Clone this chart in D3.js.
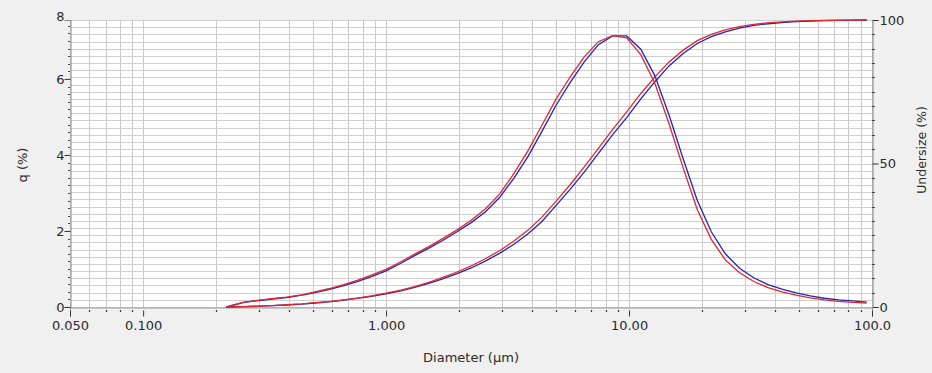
<!DOCTYPE html>
<html>
<head>
<meta charset="utf-8">
<script src="https://cdn.jsdelivr.net/npm/d3@7"></script>
<style>
  html, body { margin: 0; padding: 0; background: #f0f0f0; }
  svg { display: block; }
  text { font-family: "DejaVu Sans", sans-serif; fill: #2b2b2b; }
</style>
</head>
<body>
<svg id="chart" width="932" height="373"></svg>
<script>
// ---- data ----
const diameters = [0.22, 0.26, 0.30, 0.34, 0.39, 0.45, 0.51, 0.58, 0.67, 0.76, 0.87, 1.00,
  1.15, 1.31, 1.50, 1.71, 1.96, 2.24, 2.56, 2.93, 3.35, 3.83, 4.38, 5.00, 5.72, 6.54, 7.48,
  8.55, 9.78, 11.18, 12.78, 14.61, 16.70, 19.10, 21.80, 24.90, 28.50, 32.60, 37.30, 42.60,
  48.70, 55.70, 63.60, 72.80, 83.20, 95.10];

const qBlue = [0, 0.12, 0.17, 0.21, 0.25, 0.31, 0.38, 0.46, 0.56, 0.67, 0.80, 0.95,
  1.15, 1.35, 1.55, 1.75, 1.98, 2.22, 2.50, 2.88, 3.38, 3.95, 4.62, 5.30, 5.90, 6.45, 6.90,
  7.13, 7.13, 6.78, 6.08, 5.05, 3.90, 2.80, 1.98, 1.40, 1.02, 0.77, 0.59, 0.47,
  0.37, 0.29, 0.23, 0.19, 0.16, 0.13];

const qRed = [0, 0.13, 0.18, 0.22, 0.26, 0.32, 0.40, 0.48, 0.59, 0.70, 0.84, 0.99,
  1.19, 1.39, 1.59, 1.80, 2.03, 2.28, 2.58, 2.97, 3.50, 4.10, 4.78, 5.46, 6.05, 6.58, 6.98,
  7.14, 7.08, 6.64, 5.88, 4.82, 3.66, 2.56, 1.78, 1.24, 0.90, 0.67, 0.51, 0.40,
  0.31, 0.24, 0.19, 0.15, 0.12, 0.10];

const underBlue = [0, 0.1, 0.3, 0.5, 0.7, 1.0, 1.4, 1.8, 2.4, 3.0, 3.7, 4.6,
  5.6, 6.8, 8.2, 9.8, 11.6, 13.6, 16.0, 18.7, 21.8, 25.4, 29.8, 35.3, 41.0, 47.0, 53.5,
  60.0, 66.0, 72.5, 78.5, 84.0, 88.3, 91.8, 94.2, 95.9, 97.2, 98.1, 98.7, 99.1,
  99.4, 99.6, 99.75, 99.85, 99.95, 100];

const underRed = [0, 0.1, 0.3, 0.5, 0.8, 1.1, 1.5, 1.9, 2.5, 3.1, 3.9, 4.8,
  5.9, 7.1, 8.6, 10.3, 12.2, 14.3, 16.8, 19.6, 22.9, 26.7, 31.3, 36.8, 42.6, 48.8, 55.3,
  61.8, 68.0, 74.4, 80.2, 85.4, 89.5, 92.8, 95.0, 96.6, 97.7, 98.5, 99.0, 99.35,
  99.6, 99.75, 99.85, 99.92, 99.97, 100];

const xTickValues = [0.05, 0.1, 1, 10, 100];
const xTickLabels = ["0.050", "0.100", "1.000", "10.00", "100.0"];
const qTickValues = [0, 2, 4, 6];
const qTopLabel = "8";
const qMax = 7.55;
const uTickValues = [0, 50, 100];

// ---- layout ----
const L = 70, R = 872, T = 20, B = 307;
const svg = d3.select("#chart");

const x = d3.scaleLog().domain([0.05, 100]).range([L, R]);
const yQ = d3.scaleLinear().domain([0, qMax]).range([B, T]);
const yU = d3.scaleLinear().domain([0, 100]).range([B, T]);

// plot background
svg.append("rect").attr("x", L).attr("y", T).attr("width", R - L).attr("height", B - T)
  .attr("fill", "#ffffff");

// grid
const logGrid = [];
[0.01, 0.1, 1, 10].forEach(dec => { for (let k = 1; k <= 9; k++) logGrid.push(dec * k); });
logGrid.push(100);
const vGrid = logGrid.filter(v => v >= 0.05 - 1e-9 && v <= 100 + 1e-9);
const g = svg.append("g");
g.selectAll("line.v").data(vGrid).join("line")
  .attr("x1", d => Math.round(x(d)) + 0.5).attr("x2", d => Math.round(x(d)) + 0.5)
  .attr("y1", T).attr("y2", B)
  .attr("stroke", "#c9c9c9").attr("stroke-width", 1);
const hGrid = d3.range(0, 100.001, 2.5);
g.selectAll("line.h").data(hGrid).join("line")
  .attr("x1", L).attr("x2", R)
  .attr("y1", d => Math.round(yU(d)) + 0.5).attr("y2", d => Math.round(yU(d)) + 0.5)
  .attr("stroke", "#cfcfcf").attr("stroke-width", 1);

// ---- axes ----
// left axis
const leftAxis = d3.axisLeft(yQ).tickValues(qTickValues).tickSize(6).tickFormat(d3.format("d"));
const gl = svg.append("g").attr("transform", `translate(${L + 0.5},0)`).call(leftAxis);
gl.select(".domain").attr("stroke", "#888");
gl.selectAll(".tick line").attr("stroke", "#333");
gl.selectAll(".tick text").attr("font-size", 13).attr("x", -6).attr("dy", "0.36em");
gl.append("text").attr("x", -6).attr("y", yQ(qMax)).attr("dy", "0.1em")
  .attr("text-anchor", "end").attr("font-size", 13).style("fill", "#2b2b2b").text(qTopLabel);
const qMinor = d3.range(0.2, qMax, 0.2).filter(v => Math.abs(v / 2 - Math.round(v / 2)) > 1e-6);
svg.append("g").selectAll("line").data(qMinor).join("line")
  .attr("x1", L - 2).attr("x2", L)
  .attr("y1", d => Math.round(yQ(d)) + 0.5).attr("y2", d => Math.round(yQ(d)) + 0.5)
  .attr("stroke", "#444").attr("stroke-width", 1);

// right axis
const rightAxis = d3.axisRight(yU).tickValues(uTickValues).tickSize(6).tickFormat(d3.format("d"));
const gr = svg.append("g").attr("transform", `translate(${R + 0.5},0)`).call(rightAxis);
gr.select(".domain").attr("stroke", "#888");
gr.selectAll(".tick line").attr("stroke", "#333");
gr.selectAll(".tick text").attr("font-size", 13).attr("x", 7);
const uMinor = d3.range(5, 100, 5).filter(v => v !== 50);
svg.append("g").selectAll("line").data(uMinor).join("line")
  .attr("x1", R).attr("x2", R + 3)
  .attr("y1", d => Math.round(yU(d)) + 0.5).attr("y2", d => Math.round(yU(d)) + 0.5)
  .attr("stroke", "#444").attr("stroke-width", 1);

// bottom axis
const bottomAxis = d3.axisBottom(x).tickValues(xTickValues).tickSize(9)
  .tickFormat((d, i) => xTickLabels[i]);
const gb = svg.append("g").attr("transform", `translate(0,${B + 0.5})`).call(bottomAxis);
gb.select(".domain").attr("stroke", "#999");
gb.selectAll(".tick line").attr("stroke", "#333").attr("y1", 3);
gb.selectAll(".tick text").attr("font-size", 13).attr("y", 13);
const xMinor = vGrid.filter(v => !xTickValues.some(t => Math.abs(t - v) < 1e-9));
svg.append("g").selectAll("line").data(xMinor).join("line")
  .attr("x1", d => Math.round(x(d)) + 0.5).attr("x2", d => Math.round(x(d)) + 0.5)
  .attr("y1", B + 3).attr("y2", B + 5)
  .attr("stroke", "#333").attr("stroke-width", 1.2);

// axis titles
svg.append("text").attr("transform", `translate(27,165) rotate(-90)`)
  .attr("text-anchor", "middle").attr("font-size", 13).text("q (%)");
svg.append("text").attr("transform", `translate(926,150) rotate(-90)`)
  .attr("text-anchor", "middle").attr("font-size", 12.5).text("Undersize (%)");
svg.append("text").attr("x", 471).attr("y", 362)
  .attr("text-anchor", "middle").attr("font-size", 13).text("Diameter (µm)");

// ---- series ----
const lineQ = vals => d3.line().x((d, i) => x(diameters[i])).y((d) => yQ(d))(vals);
const lineU = vals => d3.line().x((d, i) => x(diameters[i])).y((d) => yU(d))(vals);

const series = [
  { path: lineU(underBlue), color: "#2424b8" },
  { path: lineU(underRed), color: "#e0282c" },
  { path: lineQ(qBlue), color: "#2424b8" },
  { path: lineQ(qRed), color: "#e0282c" }
];
svg.append("g").selectAll("path").data(series).join("path")
  .attr("d", d => d.path).attr("fill", "none")
  .attr("stroke", d => d.color).attr("stroke-width", 1.3);
</script>
</body>
</html>
